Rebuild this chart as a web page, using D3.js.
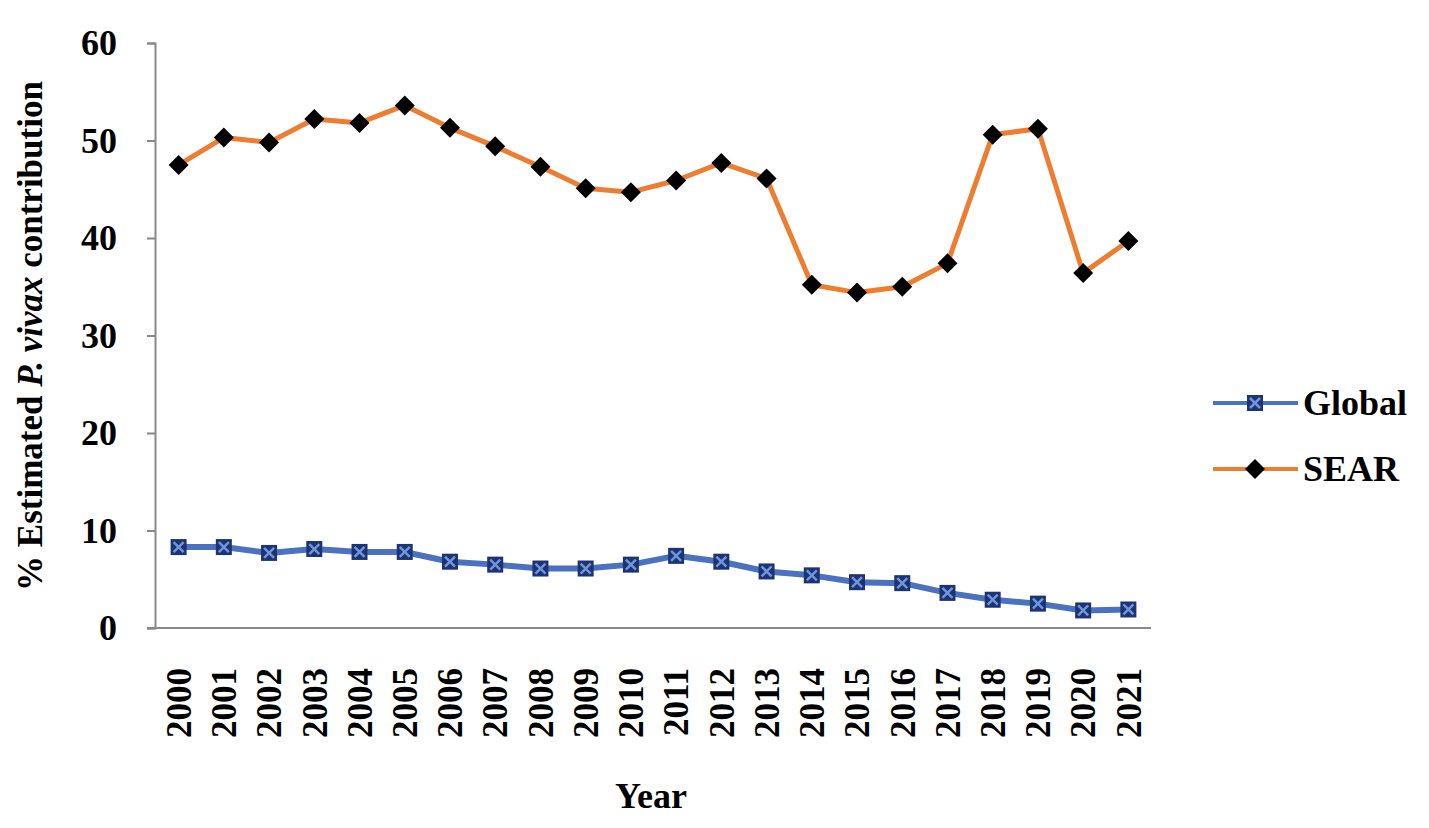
<!DOCTYPE html>
<html>
<head>
<meta charset="utf-8">
<script src="https://cdn.jsdelivr.net/npm/d3@7/dist/d3.min.js"></script>
<style>
  html, body { margin: 0; padding: 0; background: #fff; }
  svg { display: block; }
  .lbl { font-family: "Liberation Serif", "Times New Roman", serif; font-weight: bold; fill: #000; }
</style>
</head>
<body>
<svg width="1429" height="828"></svg>
<script>
var years = ["2000","2001","2002","2003","2004","2005","2006","2007","2008","2009","2010",
             "2011","2012","2013","2014","2015","2016","2017","2018","2019","2020","2021"];
var globalValues = [8.3, 8.3, 7.7, 8.1, 7.8, 7.8, 6.8, 6.5, 6.1, 6.1, 6.5,
                    7.4, 6.8, 5.8, 5.4, 4.7, 4.6, 3.6, 2.9, 2.5, 1.8, 1.9];
var searValues = [47.5, 50.3, 49.8, 52.2, 51.8, 53.6, 51.3, 49.4, 47.3, 45.1, 44.7,
                  45.9, 47.7, 46.1, 35.2, 34.4, 35.0, 37.4, 50.6, 51.2, 36.4, 39.7];
var yTicks = [0, 10, 20, 30, 40, 50, 60];
var seriesNames = ["Global", "SEAR"];

var svg = d3.select("svg");
var plotLeft = 155, plotRight = 1151, plotTop = 43, plotBottom = 628;

var x = d3.scaleBand().domain(years).range([plotLeft + 1, plotRight]).padding(0);
var y = d3.scaleLinear().domain([0, 60]).range([plotBottom, plotTop]);
var cx = function(d) { return x(d) + x.bandwidth() / 2; };

// y axis
var yAxis = svg.append("g")
    .attr("transform", "translate(" + plotLeft + ",0)")
    .call(d3.axisLeft(y).tickValues(yTicks).tickSize(8).tickPadding(30));
yAxis.select(".domain").attr("stroke", "#888").attr("stroke-width", 2);
yAxis.selectAll(".tick line").attr("stroke", "#888").attr("stroke-width", 2);
yAxis.selectAll(".tick text").attr("class", "lbl").attr("font-size", 36);

// x axis
var xAxis = svg.append("g")
    .attr("transform", "translate(0," + plotBottom + ")")
    .call(d3.axisBottom(x).tickSize(0).tickPadding(0));
xAxis.select(".domain").attr("stroke", "#888").attr("stroke-width", 2)
    .attr("d", "M" + (plotLeft - 8) + ",0H" + plotRight);
xAxis.selectAll(".tick text")
    .attr("class", "lbl")
    .attr("font-size", 35)
    .attr("text-anchor", "end")
    .attr("transform", "translate(0,40) rotate(-90)")
    .attr("dy", "0.35em")
    .attr("y", 0).attr("x", 0);

// axis titles
svg.append("text").attr("class", "lbl")
    .attr("font-size", 36)
    .attr("text-anchor", "middle")
    .attr("x", 651).attr("y", 808)
    .text("Year");

var yt = svg.append("text").attr("class", "lbl")
    .attr("font-size", 35)
    .attr("text-anchor", "middle")
    .attr("transform", "translate(42,336) rotate(-90)");
yt.append("tspan").text("% Estimated ");
yt.append("tspan").attr("font-style", "italic").text("P. vivax");
yt.append("tspan").text(" contribution");

// lines
var line = d3.line()
    .x(function(d, i) { return cx(years[i]); })
    .y(function(d) { return y(d); });

svg.append("path").datum(globalValues)
    .attr("fill", "none").attr("stroke", "#4a72c0").attr("stroke-width", 6)
    .attr("stroke-linejoin", "round")
    .attr("d", line);

svg.append("path").datum(searValues)
    .attr("fill", "none").attr("stroke", "#ed7d31").attr("stroke-width", 5)
    .attr("stroke-linejoin", "round")
    .attr("d", line);

function squareMarker(g) {
    g.append("rect").attr("x", -8).attr("y", -8).attr("width", 16).attr("height", 16)
        .attr("fill", "#1d3472");
    g.append("path").attr("d", "M-5,-5L5,5M5,-5L-5,5")
        .attr("stroke", "#6f95dc").attr("stroke-width", 2.5);
}
function diamondMarker(g) {
    g.append("path").attr("d", "M0,-10L10,0L0,10L-10,0Z").attr("fill", "#000");
}

svg.append("g").selectAll("g")
    .data(globalValues)
    .enter().append("g")
    .attr("transform", function(d, i) { return "translate(" + cx(years[i]) + "," + y(d) + ")"; })
    .each(function() { squareMarker(d3.select(this)); });

svg.append("g").selectAll("g")
    .data(searValues)
    .enter().append("g")
    .attr("transform", function(d, i) { return "translate(" + cx(years[i]) + "," + y(d) + ")"; })
    .each(function() { diamondMarker(d3.select(this)); });

// legend
var legend = svg.append("g");
var legendRows = [
    {name: seriesNames[0], color: "#4a72c0", y: 403, marker: squareMarker, w: 4},
    {name: seriesNames[1], color: "#ed7d31", y: 469, marker: diamondMarker, w: 4}
];
legendRows.forEach(function(r) {
    var g = legend.append("g").attr("transform", "translate(1213," + r.y + ")");
    g.append("line").attr("x1", 0).attr("x2", 85).attr("y1", 0).attr("y2", 0)
        .attr("stroke", r.color).attr("stroke-width", r.w);
    r.marker(g.append("g").attr("transform", "translate(42,0)"));
    g.append("text").attr("class", "lbl").attr("font-size", 36)
        .attr("x", 90).attr("y", 12).text(r.name);
});
</script>
</body>
</html>
